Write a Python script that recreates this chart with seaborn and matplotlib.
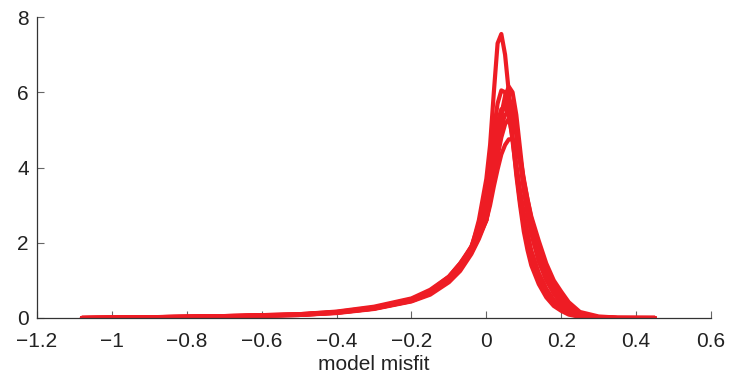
import pandas as pd
import matplotlib
matplotlib.use("Agg")
import matplotlib.pyplot as plt
import seaborn as sns

# shared misfit grid for all density curves
misfit = [-1.08, -0.9, -0.7, -0.5, -0.4, -0.3, -0.2, -0.15, -0.1, -0.07, -0.04, -0.02,
          0.0, 0.01, 0.02, 0.03, 0.04, 0.05, 0.06, 0.07, 0.08, 0.09, 0.1, 0.11, 0.12,
          0.14, 0.16, 0.18, 0.2, 0.22, 0.25, 0.3, 0.35, 0.45]

dens_a = [0.0, 0.02, 0.04, 0.08, 0.14, 0.25, 0.45, 0.65, 1.0, 1.35, 1.85,
          2.6, 3.7, 4.6, 6.0, 7.3, 7.55, 7.0, 6.0, 4.8, 3.8, 3.0, 2.3, 1.8, 1.4,
          0.9, 0.55, 0.32, 0.19, 0.09, 0.03, 0.01, 0.0, 0.0]
dens_b = [0.0, 0.02, 0.05, 0.09, 0.15, 0.27, 0.48, 0.7, 1.05, 1.4, 1.9,
          2.5, 3.3, 4.2, 5.0, 5.7, 6.05, 6.0, 5.5, 4.7, 3.9, 3.1, 2.5, 2.0, 1.6,
          1.0, 0.62, 0.38, 0.22, 0.11, 0.04, 0.01, 0.0, 0.0]
dens_c = [0.0, 0.01, 0.04, 0.08, 0.13, 0.24, 0.44, 0.62, 0.95, 1.25, 1.7,
          2.1, 2.6, 3.2, 3.9, 4.7, 5.4, 5.9, 6.15, 6.0, 5.4, 4.5, 3.6, 2.85, 2.25,
          1.5, 1.0, 0.65, 0.38, 0.2, 0.07, 0.02, 0.0, 0.0]
dens_d = [0.0, 0.02, 0.04, 0.09, 0.15, 0.26, 0.47, 0.68, 1.05, 1.35, 1.8,
          2.2, 2.7, 3.3, 4.0, 4.8, 5.4, 5.75, 5.85, 5.6, 5.0, 4.2, 3.4, 2.75, 2.25,
          1.55, 1.05, 0.7, 0.42, 0.22, 0.08, 0.02, 0.0, 0.0]
dens_e = [0.0, 0.02, 0.05, 0.1, 0.16, 0.28, 0.5, 0.72, 1.1, 1.45, 1.9,
          2.3, 2.8, 3.4, 4.0, 4.6, 5.1, 5.4, 5.5, 5.35, 4.9, 4.2, 3.5, 2.9, 2.45,
          1.7, 1.15, 0.75, 0.48, 0.26, 0.09, 0.02, 0.0, 0.0]
dens_f = [0.0, 0.01, 0.04, 0.08, 0.14, 0.25, 0.46, 0.66, 1.0, 1.3, 1.75,
          2.15, 2.6, 3.1, 3.7, 4.3, 4.8, 5.15, 5.3, 5.25, 4.9, 4.3, 3.7, 3.15, 2.65,
          1.9, 1.3, 0.85, 0.55, 0.3, 0.1, 0.02, 0.0, 0.0]
dens_g = [0.0, 0.02, 0.05, 0.1, 0.17, 0.3, 0.52, 0.75, 1.1, 1.45, 1.85,
          2.2, 2.6, 3.0, 3.5, 3.95, 4.35, 4.6, 4.75, 4.75, 4.55, 4.15, 3.65, 3.15, 2.7,
          2.05, 1.45, 1.0, 0.7, 0.42, 0.16, 0.04, 0.01, 0.0]
dens_h = [0.0, 0.02, 0.04, 0.09, 0.15, 0.26, 0.46, 0.67, 1.02, 1.38, 1.88,
          2.4, 3.0, 3.8, 4.6, 5.2, 5.55, 5.6, 5.35, 4.8, 4.1, 3.4, 2.8, 2.25, 1.8,
          1.2, 0.78, 0.48, 0.28, 0.14, 0.05, 0.01, 0.0, 0.0]

curves = {"a": dens_a, "b": dens_b, "c": dens_c, "d": dens_d,
          "e": dens_e, "f": dens_f, "g": dens_g, "h": dens_h}

rows = []
for name, dens in curves.items():
    for x, y in zip(misfit, dens):
        rows.append({"run": name, "misfit": x, "density": y})
table = pd.DataFrame(rows)

sns.set_style("white")
plt.rcParams["font.family"] = ["Liberation Sans", "DejaVu Sans"]

fig = plt.figure(figsize=(7.3, 3.79), dpi=100)
ax = fig.add_axes([0.0507, 0.161, 0.9233, 0.794])

red = "#ee1c24"
sns.lineplot(data=table, x="misfit", y="density", hue="run",
             palette=[red] * len(curves), linewidth=3.0, legend=False,
             sort=False, ax=ax)

ax.set_xlim(-1.2, 0.6)
ax.set_ylim(0, 8)
ax.set_xticks([-1.2, -1, -0.8, -0.6, -0.4, -0.2, 0, 0.2, 0.4, 0.6])
ax.set_xticklabels(["\u22121.2", "\u22121", "\u22120.8", "\u22120.6", "\u22120.4",
                    "\u22120.2", "0", "0.2", "0.4", "0.6"])
ax.set_yticks([0, 2, 4, 6, 8])
ax.set_xlabel("model misfit", fontsize=15, color="#222222", labelpad=3)
ax.set_ylabel("")
ax.tick_params(bottom=True, left=True, direction="in", length=5, width=0.8,
               labelsize=15, colors="#666666", labelcolor="#222222")
ax.tick_params(axis="x", pad=10)
ax.tick_params(axis="y", pad=6)
for side in ["top", "right"]:
    ax.spines[side].set_visible(False)
for side in ["left", "bottom"]:
    ax.spines[side].set_color("#333333")
    ax.spines[side].set_linewidth(0.9)

fig.savefig("out.png", dpi=100)
